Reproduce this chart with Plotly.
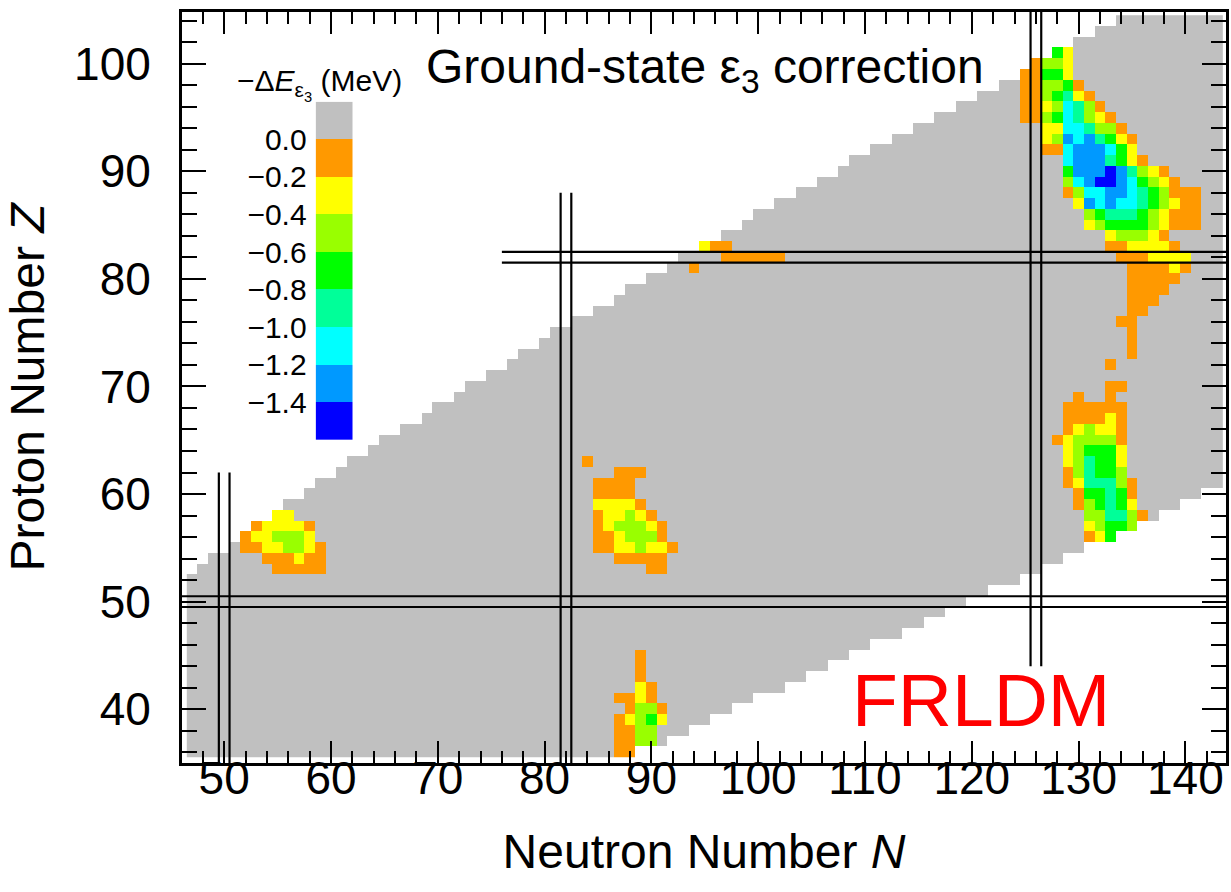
import plotly.graph_objects as go

# ---------------- data ----------------
# Gray region (nuclei present, correction = 0): per proton number Z, neutron range
Z_rows = list(range(36, 105))
N_min = [47, 47, 47, 47, 47, 47, 47, 47, 47, 47, 47, 47, 47, 47, 47, 47, 47,
         48, 49, 51, 52, 53, 55, 56, 58, 59, 61, 62, 64, 65, 67, 69, 70, 72, 73,
         75, 77, 78, 80, 81, 83, 85, 87, 88, 90, 92, 93, 95, 97, 99, 100, 102,
         104, 106, 108, 109, 111, 113, 115, 117, 119, 121, 123, 125, 126, 128,
         130, 132, 134]
N_max = [88, 91, 93, 95, 97, 99, 102, 104, 106, 108, 110, 113, 115, 117, 119,
         121, 124, 126, 128, 130, 133, 135, 137, 139, 141,
         143, 143, 143, 143, 143, 143, 143, 143, 143, 143, 143, 143, 143, 143,
         143, 143, 143, 143, 143, 143, 143, 143, 143, 143, 143, 143, 143, 143,
         143, 143, 143, 143, 143, 143, 143, 143, 143, 143, 143, 143, 143, 143,
         143, 143]

# Colored cells: (Z, first N, values in MeV)
cluster_actinide = [
    (101, 128, [-0.7, -0.3]),
    (100, 126, [-0.1, -0.5, -0.5, -0.3]),
    (99, 125, [-0.1, -0.1, -0.7, -0.7, -0.3]),
    (98, 125, [-0.1, -0.1, -0.5, -0.5, -0.7, -0.1]),
    (97, 125, [-0.1, -0.1, -0.5, -0.7, -0.9, -0.3, -0.1]),
    (96, 125, [-0.1, -0.1, -0.3, -0.5, -1.1, -0.9, -0.5, -0.1]),
    (95, 125, [-0.1, -0.1, -0.5, -0.7, -1.1, -0.9, -0.5, -0.3, -0.1]),
    (94, 127, [-0.3, -0.3, -1.1, -1.1, -0.9, -0.5, -0.5, -0.1]),
    (93, 127, [-0.3, -0.5, -1.3, -1.1, -1.3, -0.9, -0.7, -0.3, -0.1]),
    (92, 127, [-0.1, -0.1, -1.1, -1.3, -1.3, -1.3, -1.1, -0.7, -0.3]),
    (91, 129, [-1.1, -1.3, -1.3, -1.3, -0.9, -0.7, -0.3, -0.1]),
    (90, 129, [-0.7, -1.3, -1.3, -1.3, -1.5, -1.3, -0.9, -0.5, -0.3, -0.1]),
    (89, 129, [-0.5, -1.1, -1.3, -1.5, -1.5, -1.3, -1.1, -0.7, -0.5, -0.3, -0.1]),
    (88, 129, [-0.1, -0.5, -1.1, -1.1, -1.3, -1.3, -1.1, -0.9, -0.7, -0.5, -0.1, -0.1, -0.1]),
    (87, 130, [-0.3, -1.3, -1.1, -1.3, -1.1, -1.1, -0.9, -0.7, -0.5, -0.3, -0.1, -0.1]),
    (86, 131, [-0.5, -0.7, -0.9, -0.9, -0.9, -0.7, -0.5, -0.3, -0.1, -0.1, -0.1]),
    (85, 131, [-0.3, -0.5, -0.7, -0.7, -0.7, -0.7, -0.5, -0.3, -0.1, -0.1, -0.1]),
    (84, 133, [-0.3, -0.5, -0.5, -0.5, -0.3, -0.1]),
    (83, 133, [-0.1, -0.1, -0.3, -0.3, -0.3, -0.3, -0.1]),
    (82, 134, [-0.1, -0.1, -0.1, -0.3, -0.3, -0.3, -0.3]),
    (81, 135, [-0.1, -0.1, -0.1, -0.1, -0.3, -0.1]),
    (80, 135, [-0.1, -0.1, -0.1, -0.1, -0.1]),
    (79, 135, [-0.1, -0.1, -0.1, -0.1]),
    (78, 135, [-0.1, -0.1, -0.1]),
    (77, 135, [-0.1, -0.1]),
    (76, 134, [-0.1, -0.1]),
    (75, 135, [-0.1]),
    (74, 135, [-0.1]),
    (73, 135, [-0.1]),
    (72, 133, [-0.1]),
]
cluster_rare_earth = [
    (70, 133, [-0.1, -0.1]),
    (69, 130, [-0.1, 0.0, 0.0, -0.1]),
    (68, 129, [-0.1, -0.1, -0.1, -0.1, -0.1, -0.1]),
    (67, 129, [-0.1, -0.1, -0.1, -0.1, -0.3, -0.1]),
    (66, 129, [-0.1, -0.3, -0.5, -0.3, -0.3, -0.1]),
    (65, 128, [-0.1, -0.3, -0.5, -0.5, -0.5, -0.5, -0.1]),
    (64, 129, [-0.3, -0.5, -0.7, -0.7, -0.7, -0.3]),
    (63, 129, [-0.3, -0.5, -0.9, -0.7, -0.7, -0.3]),
    (62, 129, [-0.1, -0.5, -0.9, -0.7, -0.7, -0.5]),
    (61, 129, [-0.1, -0.3, -0.9, -0.9, -0.9, -0.5, -0.1]),
    (60, 130, [-0.1, -0.7, -0.7, -0.9, -0.7, -0.1]),
    (59, 130, [-0.1, -0.5, -0.7, -0.9, -0.7, -0.3]),
    (58, 131, [-0.5, -0.5, -0.9, -0.9, -0.5, -0.1]),
    (57, 131, [-0.3, -0.5, -0.7, -0.7, -0.5]),
    (56, 131, [-0.1, -0.3, -0.7]),
]
cluster_pb_strip = [
    (83, 95, [-0.3, -0.1, -0.1]),
    (82, 97, [-0.1, -0.1, -0.1, -0.1, -0.1, -0.1]),
    (81, 94, [-0.1]),
]
cluster_ba = [
    (63, 84, [-0.1]),
    (62, 87, [-0.1, -0.1, -0.1]),
    (61, 85, [-0.1, -0.1, -0.1, -0.1]),
    (60, 85, [-0.1, -0.1, -0.1, -0.1]),
    (59, 85, [-0.3, -0.3, -0.3, -0.3, -0.1]),
    (58, 85, [-0.1, -0.3, -0.3, -0.5, -0.3, -0.1]),
    (57, 85, [-0.1, -0.3, -0.5, -0.5, -0.5, -0.3, -0.1]),
    (56, 85, [-0.1, -0.1, -0.3, -0.5, -0.5, -0.5, -0.1]),
    (55, 85, [-0.1, -0.1, -0.3, -0.3, -0.5, -0.3, -0.3, -0.1]),
    (54, 87, [-0.1, -0.1, -0.1, -0.1, -0.1]),
    (53, 90, [-0.1, -0.1]),
]
cluster_light = [
    (58, 55, [-0.3, -0.3]),
    (57, 53, [-0.1, -0.3, -0.3, -0.3, -0.3, -0.1]),
    (56, 52, [-0.1, -0.3, -0.3, -0.5, -0.5, -0.5, -0.3]),
    (55, 52, [-0.1, -0.1, -0.3, -0.3, -0.5, -0.5, -0.3, -0.1]),
    (54, 54, [-0.1, -0.1, -0.1, -0.3, -0.1, -0.1]),
    (53, 55, [-0.1, -0.1, -0.1, -0.1, -0.1]),
]
cluster_zr = [
    (45, 89, [-0.1]),
    (44, 89, [-0.1]),
    (43, 89, [-0.1]),
    (42, 89, [-0.3, -0.1]),
    (41, 87, [-0.1, -0.1, -0.3, -0.1]),
    (40, 88, [-0.1, -0.5, -0.5, -0.1]),
    (39, 87, [-0.1, -0.3, -0.5, -0.7, -0.3]),
    (38, 87, [-0.1, -0.1, -0.5, -0.5]),
    (37, 87, [-0.1, -0.1, -0.5, -0.5]),
    (36, 87, [-0.1, -0.1]),
]

# Color levels (MeV) and colours
level_edges = [-1.6, -1.4, -1.2, -1.0, -0.8, -0.6, -0.4, -0.2, -0.001, 0.2]
level_colors = ["#0000ff", "#0099ff", "#00ffff", "#00ff99", "#00ff00",
                "#99ff00", "#ffff00", "#ff9900", "#c0c0c0"]
cb_centers = [-1.5, -1.3, -1.1, -0.9, -0.7, -0.5, -0.3, -0.1, 0.1]
cb_ticks = [0.0, -0.2, -0.4, -0.6, -0.8, -1.0, -1.2, -1.4]
cb_ticktext = ["0.0", "\u22120.2", "\u22120.4", "\u22120.6", "\u22120.8",
               "\u22121.0", "\u22121.2", "\u22121.4"]

# Magic numbers: double lines at +-0.5
magic_h = [(50, 46.05, 143.8), (82, 76.0, 143.8)]      # (Z, N from, N to)
magic_v = [(50, 35.0, 62.0), (82, 35.0, 88.0), (126, 44.0, 104.8)]  # (N, Z from, Z to)

x_range = [46.05, 143.8]
y_range = [35.0, 104.8]

# ---------------- build grid ----------------
N_cols = list(range(47, 144))
grid = [[None] * len(N_cols) for _ in Z_rows]
for i, Zv in enumerate(Z_rows):
    for Nv in range(N_min[i], N_max[i] + 1):
        grid[i][Nv - N_cols[0]] = 0.0
for cluster in (cluster_actinide, cluster_rare_earth, cluster_pb_strip,
                cluster_ba, cluster_light, cluster_zr):
    for Zv, n0, vals in cluster:
        for k, v in enumerate(vals):
            grid[Zv - Z_rows[0]][n0 + k - N_cols[0]] = v

zmin, zmax = level_edges[0], level_edges[-1]
colorscale = []
for i, c in enumerate(level_colors):
    lo = (level_edges[i] - zmin) / (zmax - zmin)
    hi = (level_edges[i + 1] - zmin) / (zmax - zmin)
    colorscale.append([lo, c])
    colorscale.append([hi, c])

FONT = "Liberation Sans, Arial, Helvetica, sans-serif"

fig = go.Figure()
fig.add_trace(go.Heatmap(
    x=N_cols, y=Z_rows, z=grid, colorscale=colorscale, zmin=zmin, zmax=zmax,
    showscale=False, hoverinfo="skip", xaxis="x", yaxis="y"))

fig.add_trace(go.Heatmap(
    x=[0], y=cb_centers, z=[[v] for v in cb_centers], colorscale=colorscale,
    zmin=zmin, zmax=zmax, showscale=False, hoverinfo="skip",
    xaxis="x2", yaxis="y2"))

shapes = []
for Zm, n0, n1 in magic_h:
    for d in (-0.5, 0.5):
        shapes.append(dict(type="line", xref="x", yref="y", x0=n0, x1=n1,
                           y0=Zm + d, y1=Zm + d, line=dict(color="black", width=2.2)))
for Nm, z0, z1 in magic_v:
    for d in (-0.5, 0.5):
        shapes.append(dict(type="line", xref="x", yref="y", x0=Nm + d, x1=Nm + d,
                           y0=z0, y1=z1, line=dict(color="black", width=2.2)))

axis_common = dict(showgrid=False, zeroline=False, showline=True, linecolor="black",
                   linewidth=3, mirror="ticks", ticks="inside", tickwidth=2.2,
                   tickcolor="black", tickfont=dict(family=FONT, size=46, color="black"))

fig.update_layout(
    width=1231, height=892,
    margin=dict(l=182, r=2, t=12, b=129, pad=0),
    paper_bgcolor="white", plot_bgcolor="white",
    shapes=shapes,
    xaxis=dict(range=x_range, tick0=0, dtick=10, ticklen=22,
               minor=dict(ticks="inside", dtick=2, tick0=0, ticklen=12, tickwidth=2.2,
                          tickcolor="black"),
               title=dict(text="Neutron Number <i>N</i>", standoff=32,
                          font=dict(family=FONT, size=48, color="black")),
               ticklabelstandoff=-27,
               **axis_common),
    yaxis=dict(range=y_range, tick0=0, dtick=10, ticklen=24,
               minor=dict(ticks="inside", dtick=2, tick0=0, ticklen=15, tickwidth=2.2,
                          tickcolor="black"),
               title=dict(text="Proton Number <i>Z</i>", standoff=15,
                          font=dict(family=FONT, size=48, color="black")),
               ticklabelstandoff=19,
               **axis_common),
    xaxis2=dict(domain=[0.128, 0.1636], anchor="y2", range=[-0.5, 0.5],
                visible=False, fixedrange=True),
    yaxis2=dict(domain=[0.4301, 0.8806], anchor="x2", range=[zmin, zmax],
                side="left", showgrid=False, zeroline=False, showline=False,
                ticks="", tickvals=cb_ticks, ticktext=cb_ticktext,
                ticklabelstandoff=8,
                tickfont=dict(family=FONT, size=30, color="black")),
    annotations=[
        dict(text="Ground-state \u03b5<sub>3</sub> correction", xref="paper", yref="paper",
             x=0.5014, y=0.9228, xanchor="center", yanchor="middle", showarrow=False,
             font=dict(family=FONT, size=48, color="black")),
        dict(text="\u2212\u0394<i>E</i><sub>\u03b5<sub>3</sub></sub> (MeV)", xref="paper",
             yref="paper", x=0.1318, y=0.874, xanchor="center", yanchor="bottom",
             showarrow=False, font=dict(family=FONT, size=30, color="black")),
        dict(text="FRLDM", xref="paper", yref="paper", x=0.765, y=0.0839,
             xanchor="center", yanchor="middle", showarrow=False,
             font=dict(family=FONT, size=75, color="#ff0000")),
    ],
)

fig.write_html("out.html", config={"displayModeBar": False},
               post_script="document.body.style.margin='0';")
